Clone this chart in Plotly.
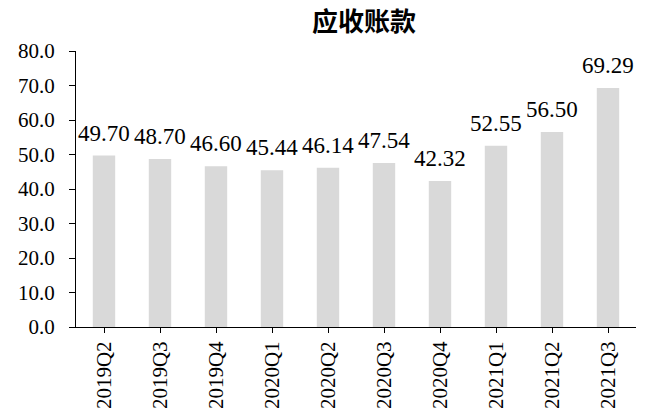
import plotly.graph_objects as go

categories = ["2019Q2", "2019Q3", "2019Q4", "2020Q1", "2020Q2",
              "2020Q3", "2020Q4", "2021Q1", "2021Q2", "2021Q3"]
values = [49.70, 48.70, 46.60, 45.44, 46.14, 47.54, 42.32, 52.55, 56.50, 69.29]
title_text = "应收账款"

serif = "Liberation Serif"

fig = go.Figure()
fig.add_trace(go.Bar(
    x=categories, y=values,
    marker=dict(color="#d9d9d9", line=dict(width=0)),
    width=0.4,
    hoverinfo="skip",
))

for c, v in zip(categories, values):
    fig.add_annotation(
        x=c, y=v, text=f"{v:.2f}", showarrow=False,
        yanchor="bottom", xanchor="center", yshift=8,
        font=dict(family=serif, size=23, color="#000000"),
    )

fig.update_layout(
    width=647, height=410,
    font=dict(family=serif),
    margin=dict(l=76, r=11, t=51, b=83, autoexpand=False),
    paper_bgcolor="white", plot_bgcolor="white",
    showlegend=False,
    title=dict(text=f"<b>{title_text}</b>", x=364/647, xanchor="center",
               y=1 - 22/410, yanchor="middle",
               font=dict(family="Noto Sans CJK SC", size=26, color="#000000")),
    xaxis=dict(
        type="category", automargin=False,
        showline=True, linecolor="#000000", linewidth=1,
        ticks="outside", ticklen=5, tickcolor="#000000",
        tickangle=-90,
        tickfont=dict(family=serif, size=21, color="#000000"),
        showgrid=False, zeroline=False,
        range=[-0.5, 9.5],
    ),
    yaxis=dict(
        range=[0, 80], dtick=10, tickformat=".1f", automargin=False,
        showline=True, linecolor="#000000", linewidth=1,
        ticks="outside", ticklen=6, tickcolor="#000000",
        ticklabelstandoff=10,
        tickfont=dict(family=serif, size=21, color="#000000"),
        showgrid=False, zeroline=False,
    ),
)

fig.write_html("out.html")
